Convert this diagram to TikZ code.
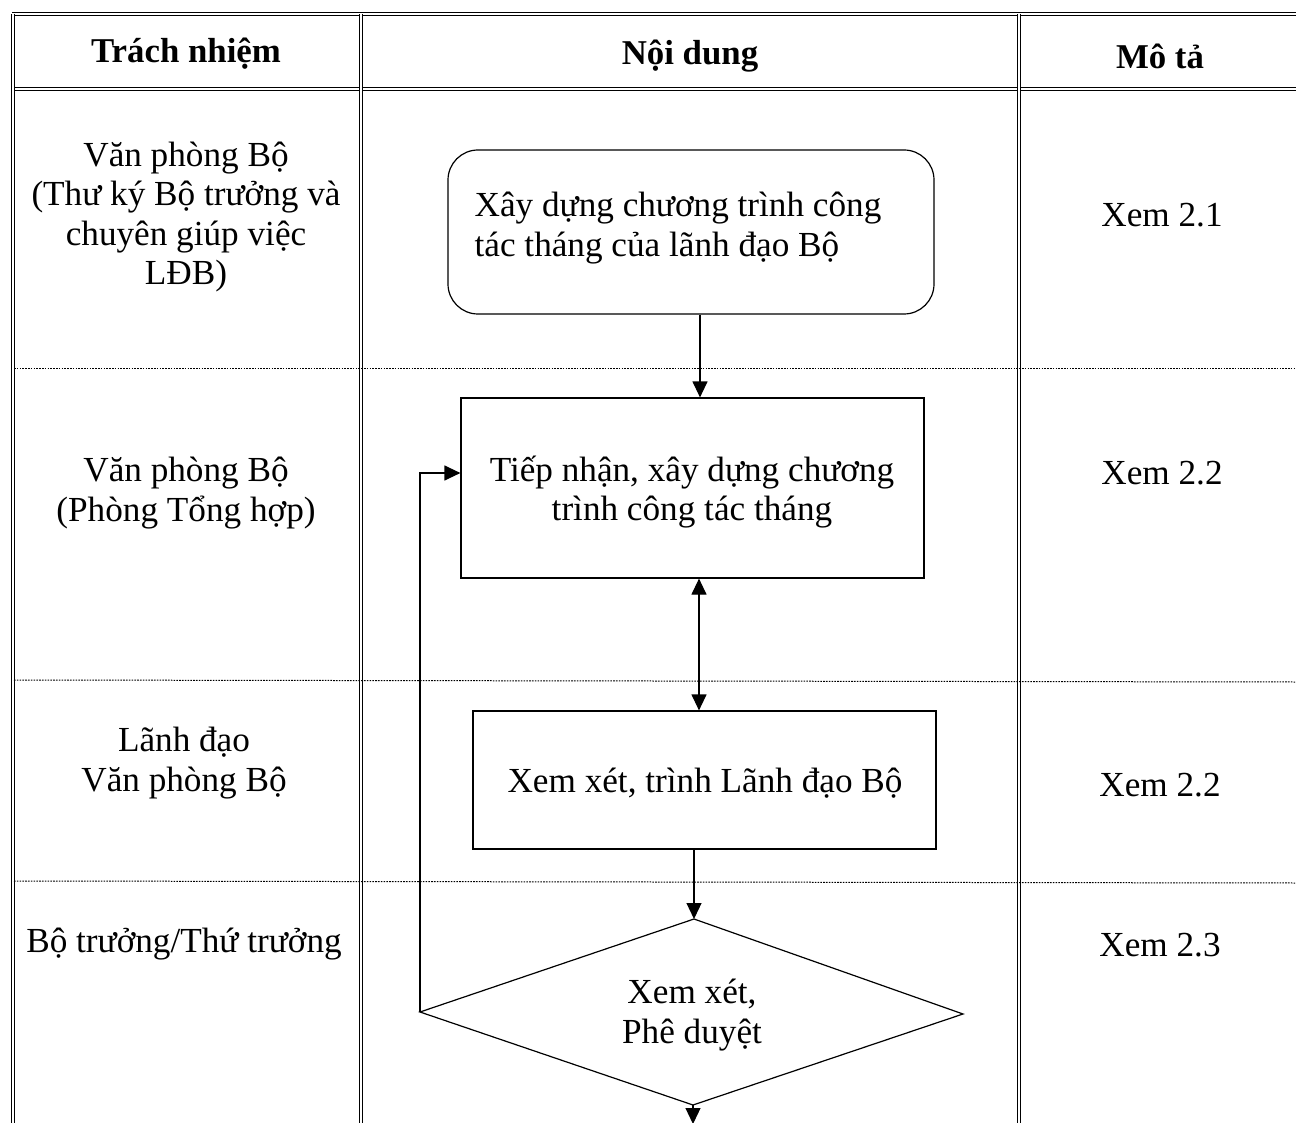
\documentclass[tikz,border=0pt]{standalone}
\usepackage{fontspec}
\setmainfont{Liberation Serif}
\usetikzlibrary{arrows.meta,calc}
\begin{document}
\begin{tikzpicture}[x=0.5pt,y=-0.5pt,
  frame/.style={double,line width=0.45pt,double distance=0.9pt},
  sep/.style={line width=0.5pt,dash pattern=on 0.8pt off 0.6pt},
  txt/.style={font=\fontsize{17.6pt}{19.8pt}\selectfont,align=center,inner sep=0pt},
  hdr/.style={font=\fontsize{17.4pt}{19.8pt}\selectfont\bfseries,inner sep=0pt},
  stepbox/.style={draw,line width=0.6pt,inner sep=0pt},
  tip/.style={Triangle[length=8pt,width=7.5pt]},
  arr/.style={line width=0.6pt,-{Triangle[length=8pt,width=7.5pt]}},
  darr/.style={line width=0.6pt,{Triangle[length=8pt,width=7.5pt]}-{Triangle[length=8pt,width=7.5pt]}},
]
\useasboundingbox (0,0) rectangle (1296,1123);
% table frame
\coordinate (tl) at (12,14);
\coordinate (tr) at (1296,14);
\coordinate (hl) at (12,89);
\coordinate (hr) at (1296,89);
\draw[frame] (tl) -- (tr);
\draw[frame] (hl) -- (hr);
\coordinate (c0t) at (13,14);   \coordinate (c0b) at (13,1123);
\coordinate (c1t) at (361,14);  \coordinate (c1b) at (361,1123);
\coordinate (c2t) at (1019,14); \coordinate (c2b) at (1019,1123);
\draw[frame] (c0t) -- (c0b);
\draw[frame] (c1t) -- (c1b);
\draw[frame] (c2t) -- (c2b);
% row separators
\coordinate (s1l) at (14,368); \coordinate (s1r) at (1296,368);
\coordinate (s2l) at (14,680); \coordinate (s2r) at (1296,682);
\coordinate (s3l) at (14,881); \coordinate (s3r) at (1296,883);
\draw[sep] (s1l) -- (s1r);
\draw[sep] (s2l) -- (s2r);
\draw[sep] (s3l) -- (s3r);
% headers
\node[hdr] (h1) at (186,54) {Trách nhiệm};
\node[hdr] (h2) at (690,56) {Nội dung};
\node[hdr] (h3) at (1160,56) {Mô tả};
% left column
\node[txt] (r1) at (186,217) {Văn phòng Bộ\\(Thư ký Bộ trưởng và\\chuyên giúp việc\\LĐB)};
\node[txt] (r2) at (186,493) {Văn phòng Bộ\\(Phòng Tổng hợp)};
\node[txt] (r3) at (184,763) {Lãnh đạo\\Văn phòng Bộ};
\node[txt] (r4) at (184,944) {Bộ trưởng/Thứ trưởng};
% right column
\node[txt] (m1) at (1162,215) {Xem 2.1};
\node[txt] (m2) at (1162,473) {Xem 2.2};
\node[txt] (m3) at (1160,785) {Xem 2.2};
\node[txt] (m4) at (1160,945) {Xem 2.3};
% flow boxes
\node[stepbox,rounded corners=15pt,minimum width=243pt,minimum height=82pt] (b1) at (691,232) {};
\node[txt,align=left] (t1) at (678,228) {Xây dựng chương trình công\\tác tháng của lãnh đạo Bộ};
\node[stepbox,minimum width=231.5pt,minimum height=90pt] (b2) at (692.5,488) {};
\node[txt] (t2) at (692,492) {Tiếp nhận, xây dựng chương\\trình công tác tháng};
\node[stepbox,minimum width=231.5pt,minimum height=69pt] (b3) at (704.5,780) {};
\node[txt] (t3) at (705,783) {Xem xét, trình Lãnh đạo Bộ};
\coordinate (dL) at (420,1012);
\coordinate (dT) at (694,919);
\coordinate (dR) at (963,1014);
\coordinate (dB) at (693,1105);
\draw[line width=0.6pt] (dL) -- (dT) -- (dR) -- (dB) -- cycle;
\node[txt] (t4) at (692,1015) {Xem xét,\\Phê duyệt};
\coordinate (endp) at (693,1124);
% connectors
\draw[arr] (b1.south -| 700,0) -- (b2.north -| 700,0);
\draw[darr] (b2.south -| 699,0) -- (b3.north -| 699,0);
\draw[arr] (b3.south -| 694,0) -- (dT);
\draw[arr] (dL) -- (420,473) -- (b2.west |- 0,473);
\draw[arr] (dB) -- (endp);
\end{tikzpicture}
\end{document}
